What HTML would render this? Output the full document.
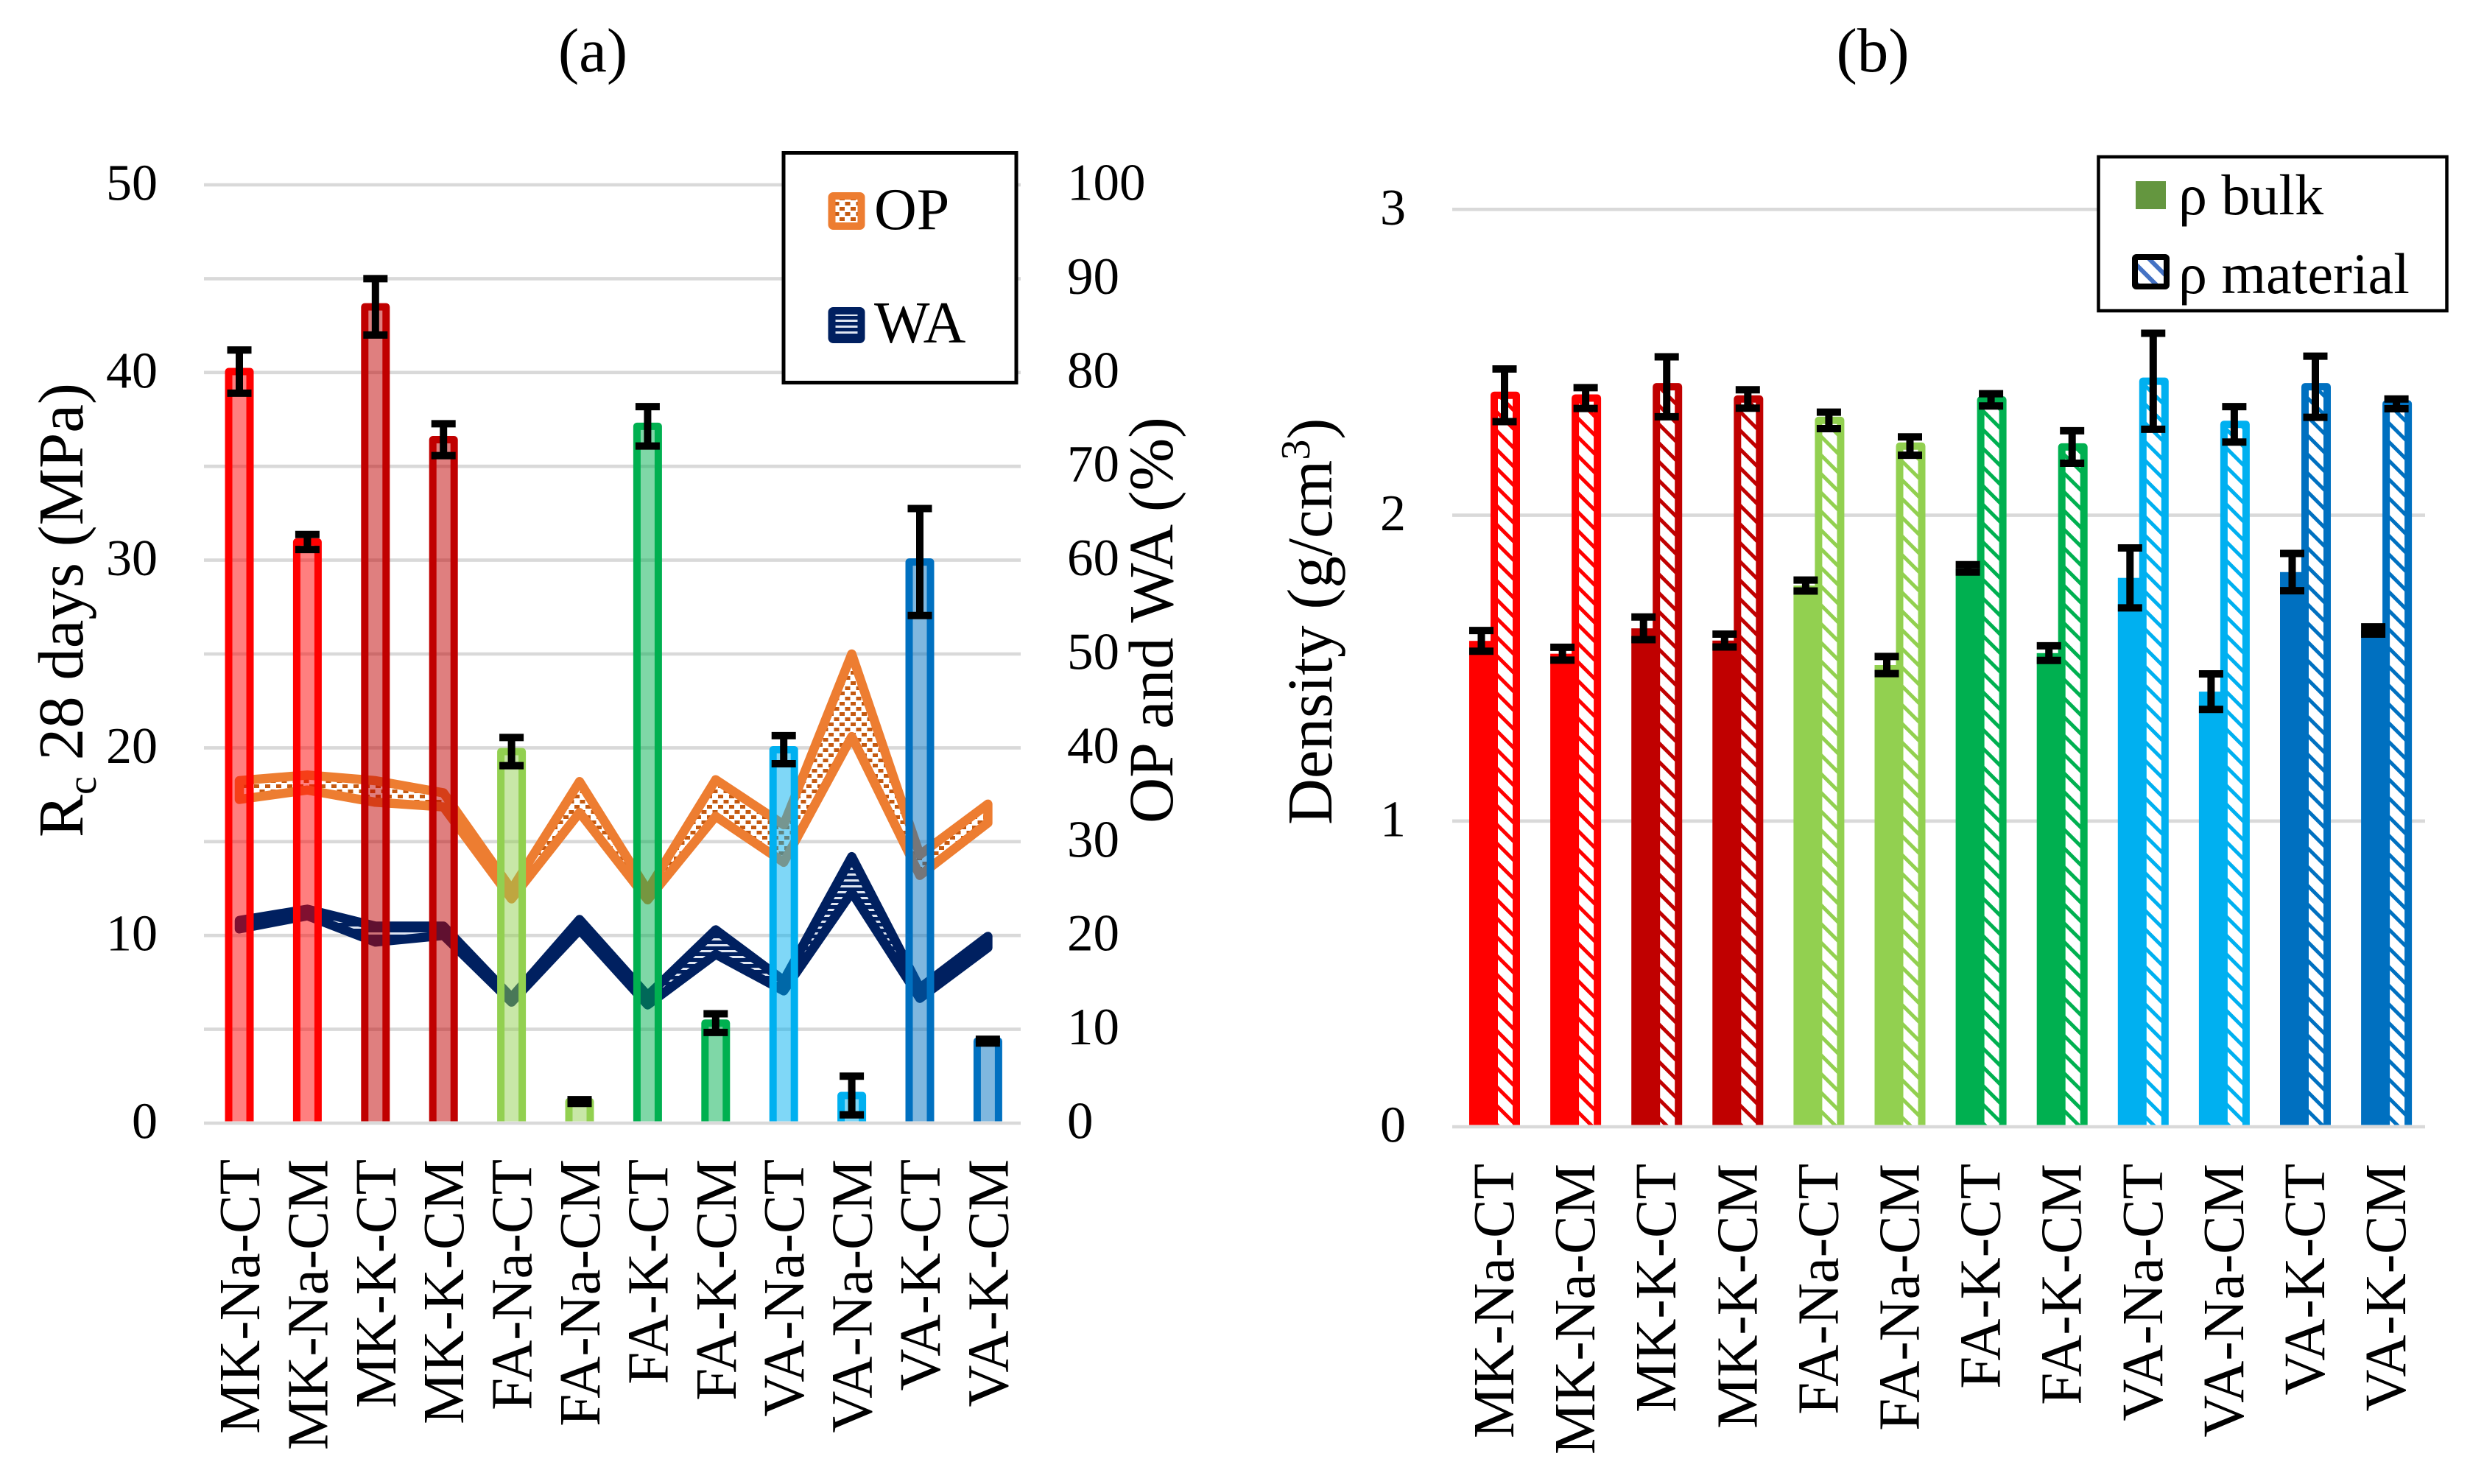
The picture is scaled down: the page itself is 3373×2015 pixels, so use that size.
<!DOCTYPE html>
<html lang="en">
<head>
<meta charset="utf-8">
<title>Compressive strength, porosity and density charts</title>
<style>
  html, body { margin: 0; padding: 0; background: #fff; }
  svg { display: block; font-family: "Liberation Serif", "DejaVu Serif", serif; fill: #000; }
</style>
</head>
<body>
<svg id="figure" xmlns="http://www.w3.org/2000/svg" width="3373" height="2015" viewBox="0 0 3373 2015">
  <rect x="0" y="0" width="3373" height="2015" fill="#fff"/>
  <defs id="defs">
    <pattern id="op-pattern" patternUnits="userSpaceOnUse" width="15" height="14">
      <rect width="15" height="14" fill="#fff"/>
      <rect x="0" y="1" width="7" height="5" fill="#c55a11"/>
      <rect x="7.5" y="8" width="7" height="5" fill="#c55a11"/>
    </pattern>
    <pattern id="wa-pattern" patternUnits="userSpaceOnUse" width="10" height="8">
      <rect width="10" height="8" fill="#002060"/>
      <rect y="2" width="10" height="3" fill="#dfe6f2"/>
    </pattern>
    <pattern id="legend-hatch" patternUnits="userSpaceOnUse" width="18" height="18" patternTransform="rotate(45)">
      <rect width="18" height="18" fill="#fff"/>
      <rect y="0" width="18" height="6" fill="#4472c4"/>
    </pattern>
  </defs>

  <text x="805" y="97" font-size="85" text-anchor="middle">(a)</text>
  <text x="2543" y="97" font-size="85" text-anchor="middle">(b)</text>

  <g id="panel-a"></g>
  <g id="panel-b"></g>

  <text transform="translate(112,1137) rotate(-90)" font-size="87">R<tspan dy="18" font-size="56">c</tspan><tspan dy="-18"> 28 days (MPa)</tspan></text>
  <text transform="translate(1592,1118) rotate(-90)" font-size="86">OP and WA (%)</text>
  <text transform="translate(1808,1120) rotate(-90)" font-size="87">Density (g/cm<tspan dy="-30" font-size="56">3</tspan><tspan dy="30">)</tspan></text>

  <g>
    <rect x="1064" y="207.5" width="316" height="312" fill="#fff" stroke="#000" stroke-width="5"/>
    <g>
      <rect x="1129.5" y="266" width="40" height="41" rx="2" fill="url(#op-pattern)" stroke="#ed7d31" stroke-width="10"/>
      <text x="1187" y="311" font-size="80">OP</text>
    </g>
    <g>
      <rect x="1129.5" y="422" width="40" height="39" rx="2" fill="url(#wa-pattern)" stroke="#002060" stroke-width="10"/>
      <text x="1187" y="465" font-size="80">WA</text>
    </g>
  </g>

  <g>
    <rect x="2849.5" y="213" width="473" height="209" fill="#fff" stroke="#000" stroke-width="4.5"/>
    <g>
      <rect x="2900" y="246" width="41" height="38" fill="#64963f"/>
      <text x="2958" y="291" font-size="78">ρ bulk</text>
    </g>
    <g>
      <rect x="2899" y="349" width="43" height="40" rx="2" fill="url(#legend-hatch)" stroke="#000" stroke-width="8"/>
      <text x="2958" y="398" font-size="78">ρ material</text>
    </g>
  </g>
</svg>

<script>
// ----- Shared categories -----
const categories = ["MK-Na-CT","MK-Na-CM","MK-K-CT","MK-K-CM","FA-Na-CT","FA-Na-CM","FA-K-CT","FA-K-CM","VA-Na-CT","VA-Na-CM","VA-K-CT","VA-K-CM"];

// ----- Panel (a) data -----
const rcValues = [40.05,30.97,43.5,36.42,19.8,1.15,37.13,5.33,19.9,1.47,29.9,4.37];
const rcErrors = [1.15,0.4,1.5,0.85,0.75,0.1,1.05,0.5,0.75,1.03,2.85,0.1];
const opUpper = [36.5,37.1,36.5,35.2,24.9,36.4,24.8,36.6,31.8,50,28.6,34];
const opLower = [34.5,35.5,34.2,33.7,23.9,33.1,23.8,32.7,27.8,41.2,26.4,32];
const waUpper = [21.6,22.8,21,21,13.4,21.7,13.6,20.6,15.2,28.4,14.4,19.9];
const waLower = [20.7,22.1,19.3,20,12.9,20.6,12.6,18,14.1,24.6,13.3,18.7];
const leftTicks = [0,10,20,30,40,50];
const rightTicks = [0,10,20,30,40,50,60,70,80,90,100];

// ----- Panel (b) data -----
const bulkValues = [1.589,1.547,1.63,1.59,1.77,1.51,1.826,1.549,1.795,1.423,1.814,1.623];
const bulkErrors = [0.034,0.021,0.037,0.021,0.018,0.028,0.012,0.024,0.098,0.058,0.061,0.012];
const materialValues = [2.392,2.383,2.42,2.38,2.31,2.226,2.377,2.223,2.438,2.297,2.42,2.364];
const materialErrors = [0.086,0.034,0.098,0.03,0.027,0.03,0.02,0.053,0.157,0.058,0.1,0.016];
const densityTicks = [0,1,2,3];

const SVG_NS = "http://www.w3.org/2000/svg";
const panelA = document.getElementById("panel-a");
const panelB = document.getElementById("panel-b");
const defs = document.getElementById("defs");

function make(tag, parent, attrs) {
  const node = document.createElementNS(SVG_NS, tag);
  for (const key in attrs) node.setAttribute(key, attrs[key]);
  parent.appendChild(node);
  return node;
}
function slug(text) { return text.toLowerCase(); }
function familyColor(i) {
  const palette = ["#ff0000", "#c00000", "#92d050", "#00b050", "#00b0f0", "#0070c0"];
  return palette[Math.floor(i / 2)];
}

// ----- Axis functions -----
const A_LEFT = 277, A_RIGHT = 1386, A_Y0 = 1525, A_Y50 = 251;
function yA(v) { return A_Y0 + (A_Y50 - A_Y0) * v / 50; }
function yASecondary(v) { return A_Y0 + (A_Y50 - A_Y0) * v / 100; }
function xA(i) { return 325 + 92.4 * i; }

const B_LEFT = 1972, B_RIGHT = 3293, B_Y0 = 1530, B_Y3 = 284.3;
function yB(v) { return B_Y0 + (B_Y3 - B_Y0) * v / 3; }
function xBulkLeft(i) { return 1995 + 110.1 * i; }
function xBulkErr(i) { return 2011.5 + 110.1 * i; }
function xMaterialRight(i) { return 2064 + 110.1 * i; }
function xMaterialErr(i) { return 2043 + 110.1 * i; }
function xBLabel(i) { return 2055 + 110.1 * i; }

// Draws an error bar with caps
function errorBar(parent, x, yTop, yBottom, name) {
  const g = make("g", parent, {});
  
  
  make("line", g, { x1: x, x2: x, y1: yTop, y2: yBottom, stroke: "#000", "stroke-width": 10 });
  make("line", g, { x1: x - 16.5, x2: x + 16.5, y1: yTop, y2: yTop, stroke: "#000", "stroke-width": 10 });
  make("line", g, { x1: x - 16.5, x2: x + 16.5, y1: yBottom, y2: yBottom, stroke: "#000", "stroke-width": 10 });
}

// ----- Panel (a) -----
for (let t = 0; t <= 50; t += 5) {
  const grid = make("line", panelA, { x1: A_LEFT, x2: A_RIGHT, y1: yA(t), y2: yA(t), stroke: "#d9d9d9", "stroke-width": 4.6 });
  
  
}
leftTicks.forEach(function (t) {
  const label = make("text", panelA, { x: 214, y: yA(t) + 20.5, "font-size": 70, "text-anchor": "end" });
  label.textContent = t;
  
  
});
rightTicks.forEach(function (t) {
  const label = make("text", panelA, { x: 1449, y: yASecondary(t) + 20.5, "font-size": 71 });
  label.textContent = t;
  
  
});

function bandPoints(values) {
  return values.map(function (v, i) { return xA(i) + "," + yASecondary(v); });
}
function drawBand(upper, lower, color, pattern, name) {
  const g = make("g", panelA, {});
  
  
  const up = bandPoints(upper);
  const low = bandPoints(lower);
  make("polygon", g, { points: up.concat(low.slice().reverse()).join(" "), fill: "url(#" + pattern + ")", stroke: color, "stroke-width": 12.5, "stroke-linejoin": "round" });
}
drawBand(opUpper, opLower, "#ed7d31", "op-pattern", "op-band");
drawBand(waUpper, waLower, "#002060", "wa-pattern", "wa-band");

rcValues.forEach(function (v, i) {
  const color = familyColor(i);
  const g = make("g", panelA, {});
  
  
  const left = xA(i) - 14.5, right = xA(i) + 14.5, top = yA(v), bottom = A_Y0 - 2.5;
  make("rect", g, { x: left, y: top, width: right - left, height: Math.max(0, bottom - top), fill: color, "fill-opacity": 0.5 });
  make("path", g, { d: "M" + left + " " + bottom + "L" + left + " " + top + "L" + right + " " + top + "L" + right + " " + bottom, fill: "none", stroke: color, "stroke-width": 10, "stroke-linejoin": "round" });
});
rcValues.forEach(function (v, i) {
  errorBar(panelA, xA(i), yA(v + rcErrors[i]), yA(v - rcErrors[i]), "rc-error-bar");
});
categories.forEach(function (c, i) {
  const label = make("text", panelA, { transform: "translate(" + (xA(i) + 27) + ",1574) rotate(-90)", "font-size": 79, "text-anchor": "end" });
  label.textContent = c;
  
  
});

// ----- Panel (b) -----
["#ff0000", "#c00000", "#92d050", "#00b050", "#00b0f0", "#0070c0"].forEach(function (color, idx) {
  const p = make("pattern", defs, { id: "hatch-" + idx, patternUnits: "userSpaceOnUse", width: 18, height: 18, patternTransform: "rotate(45)" });
  make("rect", p, { width: 18, height: 18, fill: "#fff" });
  make("rect", p, { y: 0, width: 18, height: 5, fill: color });
});

densityTicks.forEach(function (t) {
  const grid = make("line", panelB, { x1: B_LEFT, x2: B_RIGHT, y1: yB(t), y2: yB(t), stroke: "#d9d9d9", "stroke-width": 4.6 });
  
  
  const label = make("text", panelB, { x: 1909, y: yB(t) + 20.5, "font-size": 70, "text-anchor": "end" });
  label.textContent = t;
  
  
});

bulkValues.forEach(function (v, i) {
  const bottom = B_Y0 - 2.5;
  const bar = make("rect", panelB, { x: xBulkLeft(i), y: yB(v), width: 40, height: bottom - yB(v), fill: familyColor(i) });
  
  
});
materialValues.forEach(function (v, i) {
  const color = familyColor(i);
  const g = make("g", panelB, {});
  
  
  const right = xMaterialRight(i) - 5, left = right - 30, top = yB(v), bottom = B_Y0 - 2.5;
  make("rect", g, { x: left, y: top, width: right - left, height: bottom - top, fill: "url(#hatch-" + Math.floor(i / 2) + ")" });
  make("path", g, { d: "M" + left + " " + bottom + "L" + left + " " + top + "L" + right + " " + top + "L" + right + " " + bottom, fill: "none", stroke: color, "stroke-width": 10, "stroke-linejoin": "round" });
});
bulkValues.forEach(function (v, i) {
  errorBar(panelB, xBulkErr(i), yB(v + bulkErrors[i]), yB(v - bulkErrors[i]), "bulk-error-bar");
});
materialValues.forEach(function (v, i) {
  errorBar(panelB, xMaterialErr(i), yB(v + materialErrors[i]), yB(v - materialErrors[i]), "material-error-bar");
});
categories.forEach(function (c, i) {
  const label = make("text", panelB, { transform: "translate(" + xBLabel(i) + ",1580) rotate(-90)", "font-size": 79, "text-anchor": "end" });
  label.textContent = c;
  
  
});
</script>
</body>
</html>
